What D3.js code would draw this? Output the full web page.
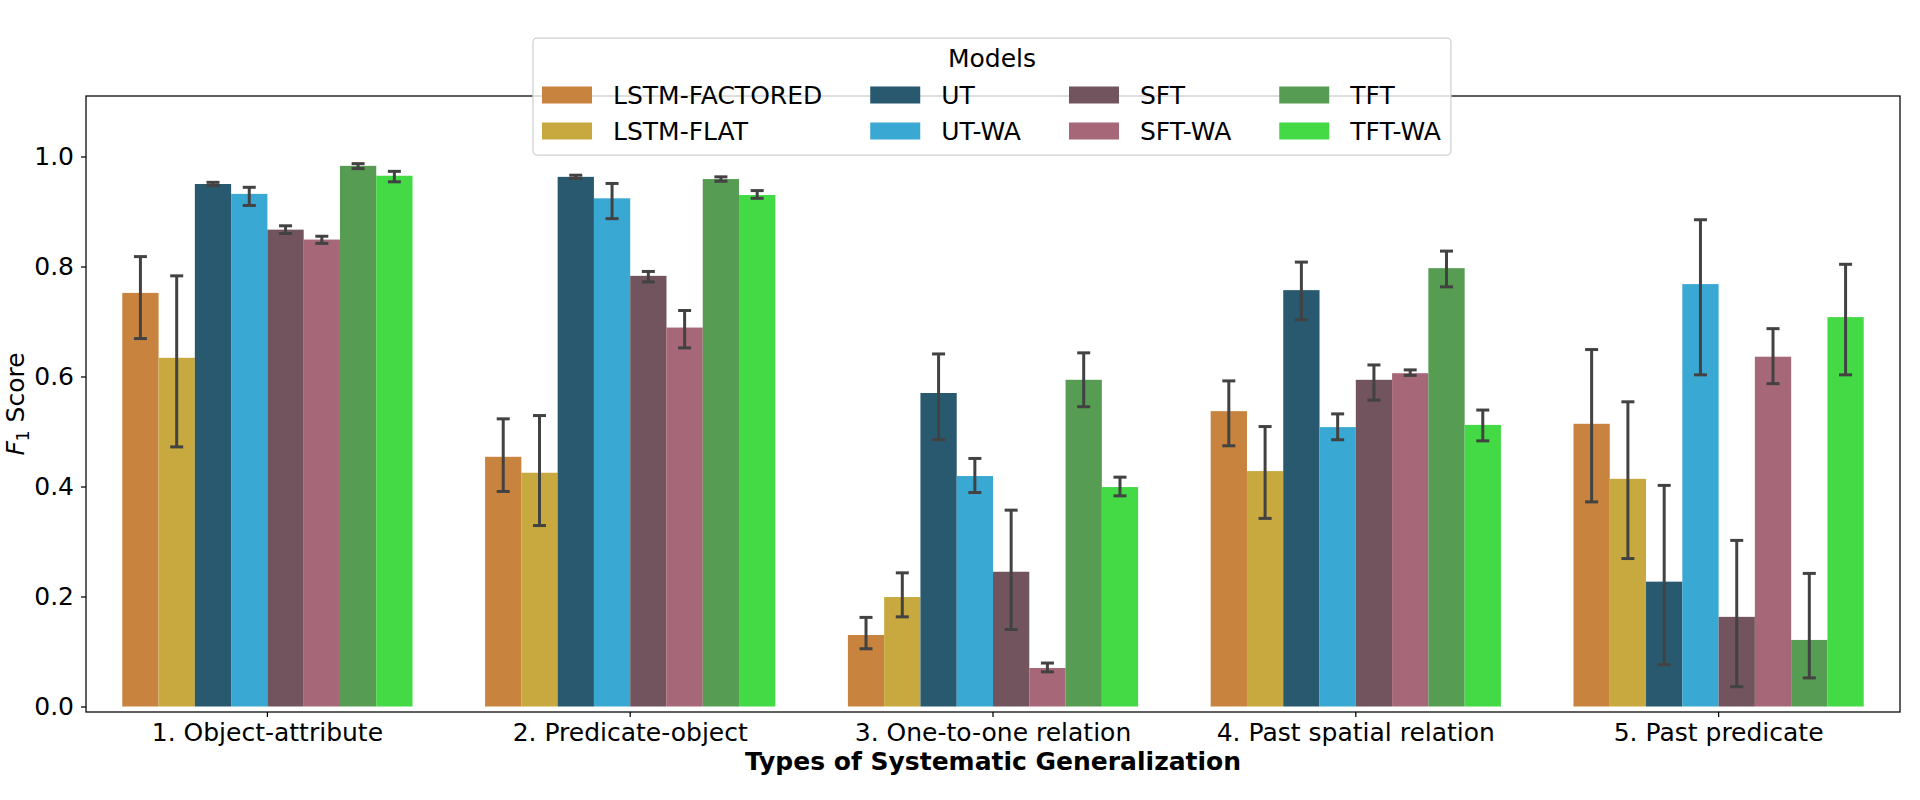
<!DOCTYPE html>
<html>
<head>
<meta charset="utf-8">
<script src="https://cdn.jsdelivr.net/npm/d3@7"></script>
<style>
  body { margin: 0; background: #fff; }
  text { font-family: "DejaVu Sans", sans-serif; }
</style>
</head>
<body>
<div class="chart"></div>
<script>
// categories on the x axis
const categories = ['1. Object-attribute', '2. Predicate-object', '3. One-to-one relation',
    '4. Past spatial relation', '5. Past predicate'];

// hue levels (models) and their colours
const models = ['LSTM-FACTORED', 'LSTM-FLAT', 'UT', 'UT-WA', 'SFT', 'SFT-WA', 'TFT', 'TFT-WA'];
const colors = ['#c8843e', '#c8a93f', '#28596e', '#39a8d3', '#71545e', '#a66879', '#569c52', '#43da46'];

// mean F1 per model, one value per category
const scores = [
    [0.752, 0.454, 0.130, 0.537, 0.514],
    [0.634, 0.425, 0.199, 0.428, 0.414],
    [0.950, 0.963, 0.570, 0.757, 0.227],
    [0.932, 0.924, 0.419, 0.508, 0.768],
    [0.867, 0.783, 0.245, 0.594, 0.163],
    [0.849, 0.689, 0.070, 0.606, 0.636],
    [0.983, 0.959, 0.594, 0.797, 0.121],
    [0.965, 0.930, 0.399, 0.512, 0.708]
];
// error bar lower / upper ends
const errLow = [
    [0.669, 0.391, 0.105, 0.474, 0.372],
    [0.472, 0.329, 0.163, 0.342, 0.269],
    [0.947, 0.960, 0.485, 0.703, 0.076],
    [0.911, 0.887, 0.389, 0.485, 0.603],
    [0.860, 0.772, 0.140, 0.557, 0.036],
    [0.842, 0.652, 0.063, 0.602, 0.587],
    [0.978, 0.955, 0.545, 0.763, 0.052],
    [0.954, 0.924, 0.383, 0.483, 0.603]
];
const errHigh = [
    [0.818, 0.523, 0.162, 0.592, 0.649],
    [0.783, 0.529, 0.243, 0.509, 0.554],
    [0.953, 0.966, 0.641, 0.808, 0.402],
    [0.944, 0.951, 0.451, 0.532, 0.885],
    [0.874, 0.791, 0.357, 0.621, 0.302],
    [0.855, 0.720, 0.079, 0.612, 0.687],
    [0.987, 0.963, 0.643, 0.828, 0.242],
    [0.973, 0.938, 0.417, 0.539, 0.804]
];
const yTicks = [0, 0.2, 0.4, 0.6, 0.8, 1.0];

let W = 1920, H = 800;
let margin = { top: 96, right: 20, bottom: 88, left: 86 };

let data = [];
models.forEach((m, j) => {
    categories.forEach((c, i) => {
        data.push({ model: m, cat: c, value: scores[j][i], lo: errLow[j][i], hi: errHigh[j][i], color: colors[j] });
    });
});

let svg = d3.select('.chart').append('svg')
    .attr('width', W)
    .attr('height', H);

let x = d3.scaleBand().domain(categories).range([margin.left, W - margin.right]).padding(0);
let xs = d3.scaleBand().domain(models).range([x.bandwidth() * 0.1, x.bandwidth() * 0.9]).padding(0);
let y = d3.scaleLinear().domain([-0.01, 1.11]).range([H - margin.bottom, margin.top]);

// bars
svg.append('g').selectAll('rect')
    .data(data)
    .enter().append('rect')
    .attr('x', d => x(d.cat) + xs(d.model))
    .attr('width', xs.bandwidth())
    .attr('y', d => y(d.value))
    .attr('height', d => y(0) - y(d.value))
    .attr('fill', d => d.color);

// error bars
let cap = 6.5;
let eb = svg.append('g').attr('stroke', '#424242').attr('stroke-width', 3).attr('fill', 'none');
data.forEach(d => {
    let cx = x(d.cat) + xs(d.model) + xs.bandwidth() / 2;
    eb.append('line').attr('x1', cx).attr('x2', cx).attr('y1', y(d.lo)).attr('y2', y(d.hi));
    eb.append('line').attr('x1', cx - cap).attr('x2', cx + cap).attr('y1', y(d.lo)).attr('y2', y(d.lo));
    eb.append('line').attr('x1', cx - cap).attr('x2', cx + cap).attr('y1', y(d.hi)).attr('y2', y(d.hi));
});

// axes
let xAxis = d3.axisBottom(x).tickSize(5).tickPadding(6).tickSizeOuter(0);
let yAxis = d3.axisLeft(y).tickValues(yTicks).tickFormat(d3.format('.1f')).tickSize(5).tickPadding(7).tickSizeOuter(0);

let gx = svg.append('g')
    .attr('transform', 'translate(0,' + (H - margin.bottom) + ')')
    .call(xAxis);
let gy = svg.append('g')
    .attr('transform', 'translate(' + margin.left + ',0)')
    .call(yAxis);
[gx, gy].forEach(g => {
    g.selectAll('text').style('font-size', '25px').attr('fill', '#000');
    g.selectAll('line').attr('stroke', '#000').attr('stroke-width', 1.25);
    g.select('.domain').remove();
});

// frame
svg.append('rect')
    .attr('x', margin.left).attr('y', margin.top)
    .attr('width', W - margin.left - margin.right)
    .attr('height', H - margin.top - margin.bottom)
    .attr('fill', 'none').attr('stroke', '#000').attr('stroke-width', 1.25);

// axis titles
svg.append('text')
    .attr('x', (margin.left + W - margin.right) / 2)
    .attr('y', 770)
    .attr('text-anchor', 'middle')
    .style('font-size', '25px')
    .style('font-weight', 'bold')
    .text('Types of Systematic Generalization');

let yl = svg.append('text')
    .attr('transform', 'translate(24,' + ((margin.top + H - margin.bottom) / 2) + ') rotate(-90)')
    .attr('text-anchor', 'middle')
    .style('font-size', '25px');
yl.append('tspan').style('font-style', 'italic').text('F');
yl.append('tspan').style('font-size', '17px').attr('dy', 5).text('1');
yl.append('tspan').attr('dy', -5).text(' Score');

// legend
let legend = svg.append('g');
let box = legend.append('rect')
    .attr('y', 38).attr('height', 117)
    .attr('rx', 4)
    .attr('fill', '#fff').attr('fill-opacity', 0.8)
    .attr('stroke', '#d0d0d0').attr('stroke-width', 1.25);

let rowY = [95, 131];
let colX = 542;
let colEnd = 0;
for (let c = 0; c < 4; c++) {
    let widest = 0;
    for (let r = 0; r < 2; r++) {
        let k = c * 2 + r;
        legend.append('rect')
            .attr('x', colX).attr('y', rowY[r] - 8.5)
            .attr('width', 50).attr('height', 17)
            .attr('fill', colors[k]);
        let t = legend.append('text')
            .attr('x', colX + 71).attr('y', rowY[r])
            .attr('dominant-baseline', 'central')
            .style('font-size', '25px')
            .text(models[k]);
        widest = Math.max(widest, t.node().getComputedTextLength());
    }
    colEnd = colX + 71 + widest;
    colX = colEnd + 48;
}
let boxLeft = 533, boxRight = colEnd + 10;
box.attr('x', boxLeft).attr('width', boxRight - boxLeft);
legend.append('text')
    .attr('x', (boxLeft + boxRight) / 2).attr('y', 58)
    .attr('text-anchor', 'middle')
    .attr('dominant-baseline', 'central')
    .style('font-size', '25px')
    .text('Models');
</script>
</body>
</html>
